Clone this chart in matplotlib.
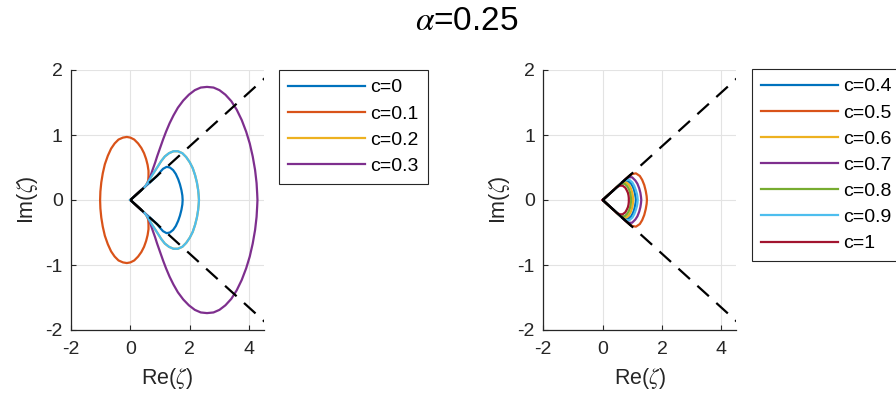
import matplotlib
matplotlib.use("Agg")
import matplotlib.pyplot as plt
import numpy as np

plt.rcParams['font.family'] = ['Liberation Sans', 'DejaVu Sans']
plt.rcParams['mathtext.fontset'] = 'stix'
plt.rcParams['axes.unicode_minus'] = False

# MATLAB default colour order
C_BLUE, C_ORANGE, C_YELLOW, C_PURPLE = '#0072BD', '#D95319', '#EDB120', '#7E2F8E'
C_GREEN, C_LBLUE, C_RED = '#77AC30', '#4DBEEE', '#A2142F'

title_text = r'$\alpha$=0.25'
ray_slope = 0.414          # dashed rays y = ±slope * x
ray_x_end = 5.0
solid_left_end = 0.45
solid_right_end = 0.96

# ---- left panel: upper halves (curves are symmetric about Im=0) ----
left_labels = ['c=0', 'c=0.1', 'c=0.2', 'c=0.3']
c0_x = [0, 0.9, 1.0, 1.1, 1.22, 1.33, 1.44, 1.53, 1.61, 1.67, 1.72, 1.75, 1.76]
c0_y = [0, 0.37, 0.43, 0.48, 0.51, 0.5, 0.46, 0.4, 0.32, 0.24, 0.15, 0.07, 0]
c01_x = [0, 0.48, 0.55, 0.6, 0.61, 0.61, 0.58, 0.53, 0.46, 0.37, 0.26, 0.13, 0, -0.12,
         -0.25, -0.4, -0.53, -0.65, -0.76, -0.86, -0.93, -0.98, -1.01, -1.02]
c01_y = [0, 0.2, 0.24, 0.3, 0.37, 0.45, 0.54, 0.63, 0.72, 0.8, 0.87, 0.93, 0.96, 0.97,
         0.96, 0.93, 0.87, 0.79, 0.68, 0.55, 0.41, 0.27, 0.13, 0]
c02_x = [0, 0.48, 0.56, 0.64, 0.73, 0.83, 0.93, 1.04, 1.16, 1.3, 1.45, 1.6, 1.75, 1.88,
         2.0, 2.1, 2.18, 2.24, 2.28, 2.3, 2.31]
c02_y = [0, 0.2, 0.25, 0.31, 0.38, 0.45, 0.52, 0.6, 0.67, 0.72, 0.75, 0.75, 0.72, 0.66,
         0.58, 0.49, 0.38, 0.27, 0.16, 0.07, 0]
c03_x = [0, 0.52, 0.6, 0.65, 0.7, 0.76, 0.83, 0.9, 1.0, 1.1, 1.2, 1.32, 1.45, 1.6, 1.78,
         1.97, 2.17, 2.37, 2.58, 2.8, 3.0, 3.2, 3.4, 3.58, 3.75, 3.9, 4.02, 4.12, 4.2,
         4.25, 4.27, 4.28]
c03_y = [0, 0.22, 0.28, 0.33, 0.4, 0.48, 0.57, 0.67, 0.8, 0.93, 1.05, 1.18, 1.3, 1.42,
         1.53, 1.62, 1.69, 1.73, 1.74, 1.73, 1.69, 1.62, 1.52, 1.39, 1.23, 1.05, 0.87,
         0.67, 0.46, 0.26, 0.1, 0]
extra_x = c02_x
extra_y = c02_y

# ---- right panel ----
right_labels = ['c=0.4', 'c=0.5', 'c=0.6', 'c=0.7', 'c=0.8', 'c=0.9', 'c=1']
c04_x = [0, 0.64, 0.7, 0.76, 0.86, 0.96, 1.02, 1.06, 1.09, 1.11, 1.12]
c04_y = [0, 0.26, 0.28, 0.29, 0.29, 0.25, 0.2, 0.15, 0.09, 0.04, 0]
c05_x = [0, 0.84, 0.92, 1.0, 1.12, 1.25, 1.33, 1.4, 1.45, 1.48, 1.49]
c05_y = [0, 0.35, 0.38, 0.40, 0.41, 0.37, 0.31, 0.23, 0.14, 0.06, 0]
c06_x = [0, 0.6, 0.65, 0.7, 0.8, 0.89, 0.94, 0.98, 1.01, 1.02, 1.03]
c06_y = [0, 0.25, 0.26, 0.27, 0.27, 0.23, 0.19, 0.14, 0.08, 0.04, 0]
c07_x = [0, 0.74, 0.8, 0.88, 0.99, 1.1, 1.17, 1.23, 1.27, 1.29, 1.30]
c07_y = [0, 0.31, 0.33, 0.35, 0.35, 0.30, 0.25, 0.18, 0.11, 0.05, 0]
c08_x = [0, 0.55, 0.6, 0.65, 0.74, 0.83, 0.88, 0.92, 0.94, 0.95, 0.96]
c08_y = [0, 0.23, 0.24, 0.25, 0.25, 0.21, 0.17, 0.12, 0.08, 0.04, 0]
c09_x = [0, 0.68, 0.74, 0.8, 0.9, 1.0, 1.06, 1.11, 1.15, 1.17, 1.18]
c09_y = [0, 0.28, 0.3, 0.31, 0.31, 0.27, 0.22, 0.16, 0.10, 0.05, 0]
c10_x = [0, 0.48, 0.53, 0.58, 0.67, 0.76, 0.81, 0.85, 0.87, 0.88, 0.88]
c10_y = [0, 0.2, 0.21, 0.22, 0.22, 0.19, 0.15, 0.11, 0.07, 0.03, 0]


def closed(xu, yu):
    xu = np.asarray(xu, float)
    yu = np.asarray(yu, float)
    x = np.concatenate([xu, xu[::-1]])
    y = np.concatenate([yu, -yu[::-1]])
    return x, y


fig = plt.figure(figsize=(8.96, 4.08), dpi=100)
ax_w, ax_h = 193 / 896, 260 / 408
ax1 = fig.add_axes([71 / 896, 78 / 408, ax_w, ax_h])
ax2 = fig.add_axes([543.3 / 896, 78 / 408, ax_w, ax_h])

LW = 1.6
gray = '#262626'


def style(ax):
    ax.set_xlim(-2, 4.5)
    ax.set_ylim(-2, 2)
    ax.set_xticks([-2, 0, 2, 4])
    ax.set_yticks([-2, -1, 0, 1, 2])
    ax.grid(True, color='#e3e3e3', linewidth=0.8)
    ax.set_axisbelow(True)
    for s in ['top', 'right']:
        ax.spines[s].set_visible(False)
    for s in ['left', 'bottom']:
        ax.spines[s].set_color(gray)
        ax.spines[s].set_linewidth(0.9)
    ax.tick_params(direction='in', length=3.5, width=0.8, colors=gray,
                   labelsize=14, labelcolor=gray)
    ax.tick_params(axis='x', pad=8)
    ax.tick_params(axis='y', pad=6)
    ax.set_xlabel(r'Re($\zeta$)', fontsize=15.5, color=gray, labelpad=6)
    ax.set_ylabel(r'Im($\zeta$)', fontsize=15.5, color=gray, labelpad=4)


def rays(ax, solid_end):
    xs = np.array([0, ray_x_end])
    for sgn in (1, -1):
        ln, = ax.plot(xs, sgn * ray_slope * xs, color='k', lw=LW)
        ln.set_dashes((7.0, 4.5))
        xs2 = np.array([0, solid_end])
        ax.plot(xs2, sgn * ray_slope * xs2, color='k', lw=LW, solid_capstyle='butt')


style(ax1)
style(ax2)

left_series = [(c0_x, c0_y, C_BLUE), (c01_x, c01_y, C_ORANGE),
               (c02_x, c02_y, C_YELLOW), (c03_x, c03_y, C_PURPLE)]
handles1 = []
for (xu, yu, col), lab in zip(left_series, left_labels):
    x, y = closed(xu, yu)
    h, = ax1.plot(x, y, color=col, lw=LW, label=lab)
    handles1.append(h)
x, y = closed(extra_x, extra_y)
ax1.plot(x, y, color=C_LBLUE, lw=LW, label='_nolegend_')
rays(ax1, solid_left_end)

right_series = [(c04_x, c04_y, C_BLUE), (c05_x, c05_y, C_ORANGE), (c06_x, c06_y, C_YELLOW),
                (c07_x, c07_y, C_PURPLE), (c08_x, c08_y, C_GREEN), (c09_x, c09_y, C_LBLUE),
                (c10_x, c10_y, C_RED)]
handles2 = []
for (xu, yu, col), lab in zip(right_series, right_labels):
    x, y = closed(xu, yu)
    h, = ax2.plot(x, y, color=col, lw=LW, label=lab)
    handles2.append(h)
rays(ax2, solid_right_end)


def legend(ax, handles, labels, x0, y0):
    lg = ax.legend(handles, labels, loc='upper left',
                   bbox_to_anchor=(x0 / 896, 1 - y0 / 408),
                   bbox_transform=fig.transFigure, borderaxespad=0,
                   fontsize=14, handlelength=3.95, handletextpad=0.3,
                   labelspacing=0.44, borderpad=0.45, fancybox=False,
                   framealpha=1, edgecolor=gray)
    lg.get_frame().set_linewidth(0.8)
    for t in lg.get_texts():
        t.set_color('k')


legend(ax1, handles1, left_labels, 279, 70)
legend(ax2, handles2, right_labels, 752, 69)

fig.text(467 / 896, 1 - 22 / 408, title_text, ha='center', va='center', fontsize=24)

fig.savefig('out.png', dpi=100)
